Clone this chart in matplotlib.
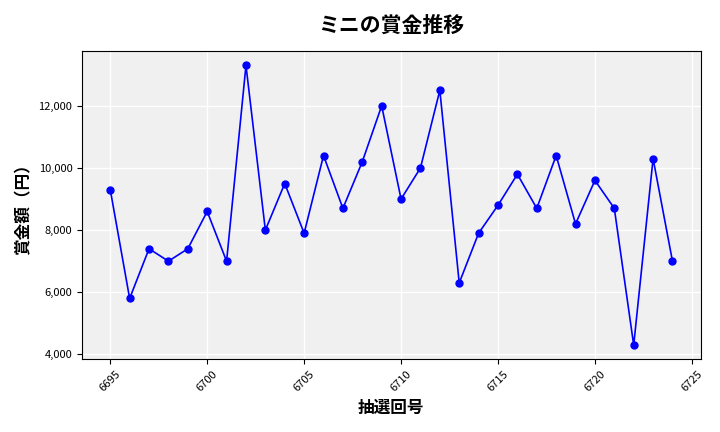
import matplotlib
matplotlib.use('Agg')
import matplotlib.pyplot as plt
from matplotlib.ticker import FuncFormatter

plt.rcParams['font.family'] = ['Noto Sans CJK JP', 'DejaVu Sans']

draws = list(range(6695, 6725))
prizes = [9300, 5800, 7400, 7000, 7400, 8600, 7000, 13300, 8000, 9500,
          7900, 10400, 8700, 10200, 12000, 9000, 10000, 12500, 6300, 7900,
          8800, 9800, 8700, 10400, 8200, 9600, 8700, 4300, 10300, 7000]

fig, ax = plt.subplots(figsize=(7.2, 4.32), dpi=100)
ax.set_facecolor('#f0f0f0')
ax.grid(True, color='white', linewidth=1)
ax.set_axisbelow(True)
ax.plot(draws, prizes, color='blue', marker='o', markersize=5, linewidth=1.2)

ax.set_title('ミニの賞金推移', fontsize=15, fontweight='bold', pad=14)
ax.set_xlabel('抽選回号', fontsize=12, fontweight='bold')
ax.set_ylabel('賞金額（円）', fontsize=12, fontweight='bold')
ax.set_xticks(range(6695, 6726, 5))
ax.yaxis.set_major_formatter(FuncFormatter(lambda v, p: f'{int(v):,}'))
ax.tick_params(axis='x', labelrotation=45, labelsize=8)
ax.tick_params(axis='y', labelsize=8)

plt.tight_layout()
fig.savefig('out.png', dpi=100)
